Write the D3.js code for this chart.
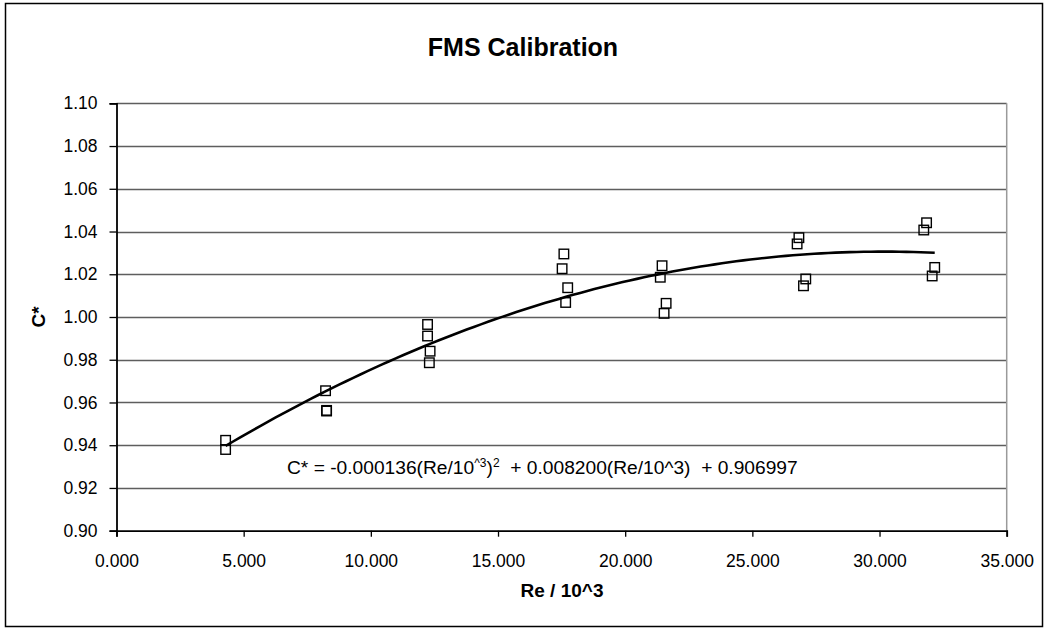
<!DOCTYPE html>
<html>
<head>
<meta charset="utf-8">
<script src="https://cdn.jsdelivr.net/npm/d3@7"></script>
<style>
  html, body { margin: 0; padding: 0; background: #fff; }
  svg { display: block; font-family: "Liberation Sans", Arial, sans-serif; }
</style>
</head>
<body>
<svg id="chart" width="1045" height="631"></svg>
<script>
// ---- data ----
const title = "FMS Calibration";
const xLabel = "Re / 10^3";
const yLabel = "C*";
const reValues = [4.29, 4.29, 8.22, 8.26, 8.26, 12.23, 12.23, 12.33, 12.30, 17.59, 17.52, 17.74, 17.66,
                  21.45, 21.38, 21.61, 21.53, 26.83, 26.76, 27.10, 27.01, 31.85, 31.74, 32.17, 32.07];
const cStarValues = [0.9423, 0.9380, 0.9655, 0.9563, 0.9560, 0.9965, 0.9911, 0.9840, 0.9786,
                     1.0295, 1.0226, 1.0137, 1.0068, 1.0240, 1.0186, 1.0064, 1.0017,
                     1.0371, 1.0342, 1.0178, 1.0146, 1.0441, 1.0407, 1.0232, 1.0192];
const trendCoefficients = [-0.000136, 0.008200, 0.906997]; // a*x^2 + b*x + c
const xTicks = [0, 5, 10, 15, 20, 25, 30, 35];
const yTicks = [0.90, 0.92, 0.94, 0.96, 0.98, 1.00, 1.02, 1.04, 1.06, 1.08, 1.10];

// ---- layout ----
const svg = d3.select("#chart");
const pL = 116.5, pR = 1006.7, pT = 103.3, pB = 530.7;
const x = d3.scaleLinear().domain([0, 35]).range([pL, pR]);
const y = d3.scaleLinear().domain([0.90, 1.10]).range([pB, pT]);

// outer border
svg.append("rect").attr("x", 5.5).attr("y", 3.5).attr("width", 1037).attr("height", 623)
  .attr("fill", "#fff").attr("stroke", "#000").attr("stroke-width", 1.5);

// title
svg.append("text").attr("x", 523).attr("y", 56).attr("text-anchor", "middle")
  .attr("font-weight", "bold").attr("font-size", 25).text(title);

// gridlines
svg.append("g").selectAll("line").data(yTicks.slice(1)).join("line")
  .attr("x1", pL).attr("x2", pR)
  .attr("y1", d => Math.round(y(d)) + 0.5).attr("y2", d => Math.round(y(d)) + 0.5)
  .attr("stroke", "#5e5e5e").attr("stroke-width", 1.3);

// plot area right border
svg.append("line").attr("x1", pR).attr("x2", pR).attr("y1", pT).attr("y2", pB)
  .attr("stroke", "#9a9a9a").attr("stroke-width", 1.5);

// axes
const yAxis = d3.axisLeft(y).tickValues(yTicks).tickFormat(d3.format(".2f")).tickSize(7).tickPadding(12);
const gy = svg.append("g").attr("transform", `translate(${pL},0)`).call(yAxis);
const xAxis = d3.axisBottom(x).tickValues(xTicks).tickFormat(d3.format(".3f")).tickSize(6).tickPadding(18);
const gx = svg.append("g").attr("transform", `translate(0,${pB})`).call(xAxis);
[gx, gy].forEach(g => {
  g.select(".domain").attr("stroke", "#000").attr("stroke-width", 1.8);
  g.selectAll(".tick line").attr("stroke", "#000").attr("stroke-width", 1.3);
  g.selectAll(".tick text").attr("font-size", 17.5).attr("fill", "#000")
    .attr("font-family", "'Liberation Sans', Arial, sans-serif");
});

// axis titles
svg.append("text").attr("transform", "translate(45,317) rotate(-90)").attr("text-anchor", "middle")
  .attr("font-weight", "bold").attr("font-size", 19).text(yLabel);
svg.append("text").attr("x", 562).attr("y", 597).attr("text-anchor", "middle")
  .attr("font-weight", "bold").attr("font-size", 19).text(xLabel);

// markers
const pts = reValues.map((r, i) => ({ r, c: cStarValues[i] }));
const s = 9.5;
svg.append("g").selectAll("rect").data(pts).join("rect")
  .attr("x", d => x(d.r) - s / 2).attr("y", d => y(d.c) - s / 2)
  .attr("width", s).attr("height", s)
  .attr("fill", "none").attr("stroke", "#000").attr("stroke-width", 1.4);

// trendline
const [ca, cb, cc] = trendCoefficients;
const xMin = d3.min(reValues), xMax = d3.max(reValues);
const trend = d3.range(0, 101).map(i => {
  const xv = xMin + (xMax - xMin) * i / 100;
  return [xv, ca * xv * xv + cb * xv + cc];
});
svg.append("path").datum(trend)
  .attr("d", d3.line().x(d => x(d[0])).y(d => y(d[1])))
  .attr("fill", "none").attr("stroke", "#000").attr("stroke-width", 2.6);

// equation label
const eq = svg.append("text").attr("x", 287).attr("y", 474).attr("font-size", 19.2);
eq.append("tspan").text("C* = -0.000136(Re/10");
eq.append("tspan").attr("font-size", 12).attr("dy", -7).text("^3");
eq.append("tspan").attr("dy", 7).text(")");
eq.append("tspan").attr("font-size", 12).attr("dy", -7).text("2");
eq.append("tspan").attr("dy", 7).text("\u00a0 + 0.008200(Re/10^3) \u00a0+ 0.906997");
</script>
</body>
</html>
